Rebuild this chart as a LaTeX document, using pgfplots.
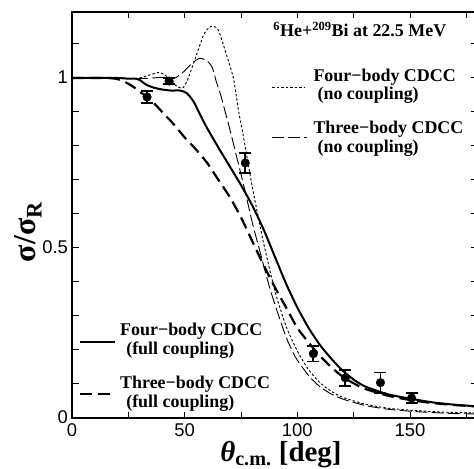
\documentclass[border=0pt]{standalone}
\usepackage{fontspec}
\setmainfont{Liberation Serif}
\newfontfamily\tickfont{Liberation Sans}
\usepackage{pgfplots}
\pgfplotsset{compat=1.18}

\tikzset{
  keytext/.style={font=\fontsize{18}{19}\selectfont\bfseries, anchor=base west, inner sep=0pt},
  fourfull/.style={black, line width=2bp},
  threefull/.style={black, line width=2.2bp, dash pattern=on 12bp off 6bp},
  fournone/.style={black, line width=0.9bp, dash pattern=on 2.5bp off 2bp},
  threenone/.style={black, line width=0.9bp, dash pattern=on 12bp off 4bp},
}

\begin{document}
\begin{tikzpicture}
\begin{axis}[
  scale only axis, width=405.6bp, height=406bp,
  xmin=0, xmax=180, ymin=0, ymax=1.194,
  xtick={0,50,100,150}, minor xtick={25,75,125,175},
  ytick={0,0.5,1}, minor ytick={0.1,0.2,0.3,0.4,0.6,0.7,0.8,0.9,1.1},
  yticklabels={0,0.5,1},
  tick align=inside, major tick length=6.5bp, minor tick length=6.5bp,
  tick style={line width=1bp, black},
  axis line style={line width=1.1bp},
  tick label style={font=\fontsize{18.5}{20}\tickfont},
  /pgf/number format/assume math mode=true,
  xticklabel style={yshift=-2.5bp},
  yticklabel style={xshift=-0.5bp, yshift=1bp},
  clip=false,
]
% four-body CDCC, full coupling
\addplot[fourfull, smooth, tension=0.4] coordinates {
(0,1) (10,1) (20,1) (25,0.998) (28,0.998) (30,0.994) (33,0.98) (36,0.972)
(40,0.966) (44,0.963) (48,0.963) (51,0.955) (54,0.93) (57,0.89) (60,0.852)
(65,0.795) (70,0.74) (75,0.685) (80,0.625) (85,0.555) (90,0.475) (95,0.395)
(100,0.325) (105,0.265) (110,0.215) (115,0.175) (120,0.14) (125,0.113)
(130,0.093) (140,0.07) (150,0.057) (160,0.046) (170,0.039) (180,0.034)};
% three-body CDCC, full coupling
\addplot[threefull, smooth, tension=0.4] coordinates {
(0,1) (15,1) (20,0.997) (23,0.99) (27,0.975) (30,0.96) (35,0.935) (40,0.9)
(45,0.865) (50,0.825) (55,0.79) (60,0.75) (65,0.7) (70,0.65) (75,0.59)
(80,0.52) (85,0.45) (90,0.385) (95,0.325) (100,0.265) (105,0.222) (110,0.183)
(115,0.15) (120,0.122) (125,0.102) (130,0.086) (140,0.066) (150,0.053)
(160,0.044) (170,0.038) (180,0.034)};
% four-body CDCC, no coupling
\addplot[fournone, smooth, tension=0.4] coordinates {
(0,1) (20,1) (25,0.998) (30,1.0) (35,1.01) (39,1.016) (43,1.0) (46,0.978)
(49,0.97) (51,0.99) (54,1.044) (58,1.12) (60,1.143) (62.5,1.153) (65,1.14)
(68,1.08) (71.6,1.0) (74,0.9) (76,0.83) (80,0.68) (83,0.58) (85,0.515)
(90,0.375) (95,0.27) (100,0.197) (105,0.142) (110,0.104) (115,0.079)
(120,0.061) (130,0.041) (140,0.029) (150,0.023) (160,0.019) (170,0.016) (180,0.015)};
% three-body CDCC, no coupling
\addplot[threenone, smooth, tension=0.4] coordinates {
(0,1) (20,1) (25,0.998) (30,0.998) (36,1.0) (40,1.002) (45,0.998) (49,1.015)
(52,1.035) (55,1.052) (57,1.058) (60,1.05) (62.3,1.03) (64,0.99) (66,0.95)
(68,0.9) (70,0.85) (73,0.77) (76,0.69) (80,0.575) (83,0.5) (87,0.4)
(90,0.335) (95,0.238) (98.3,0.19) (100,0.17) (105,0.125) (110,0.092)
(115,0.071) (120,0.056) (130,0.037) (140,0.026) (150,0.02) (160,0.016)
(170,0.013) (180,0.012)};
% experimental data
\addplot[black, only marks, mark=*, mark size=4.3bp,
  error bars/.cd, y dir=both, y explicit,
  error bar style={line width=1.8bp},
  error mark options={rotate=90, mark size=6bp, line width=1.8bp}]
coordinates {
(33.3,0.944) +- (0,0.018)
(43.1,0.991) +- (0,0.008)
(76.9,0.75) +- (0,0.03)
(107.1,0.189) +- (0,0.023)
(121.3,0.118) +- (0,0.023)
(136.9,0.104) +- (0,0.03)
(150.7,0.059) +- (0,0.015)};

% axis labels
\node[rotate=90, anchor=center, font=\fontsize{32}{34}\selectfont\bfseries]
  at (rel axis cs:-0.108,0.458) {σ/σ\textsubscript{R}};
\node[anchor=base, font=\fontsize{29}{31}\selectfont\bfseries]
  at (rel axis cs:0.515,-0.108) {\textit{θ}\textsubscript{c.m.} [deg]};

% title and legend keys
\node[keytext] at (axis cs:89.3,1.1206) {\textsuperscript{6}He+\textsuperscript{209}Bi at 22.5 MeV};
\draw[fournone] (axis cs:88.9,0.9735) -- (axis cs:103.1,0.9735);
\node[keytext] at (axis cs:107.1,0.991) {Four−body CDCC};
\node[keytext] at (axis cs:108.9,0.938) {(no coupling)};
\draw[threenone] (axis cs:88.9,0.826) -- (axis cs:104.4,0.826);
\node[keytext] at (axis cs:107.1,0.838) {Three−body CDCC};
\node[keytext] at (axis cs:108.9,0.782) {(no coupling)};
\draw[fourfull] (axis cs:3.6,0.2235) -- (axis cs:19.1,0.2235);
\node[keytext] at (axis cs:21.3,0.244) {Four−body CDCC};
\node[keytext] at (axis cs:24,0.188) {(full coupling)};
\draw[threefull] (axis cs:3.6,0.0706) -- (axis cs:16.9,0.0706);
\node[keytext] at (axis cs:21.3,0.0853) {Three−body CDCC};
\node[keytext] at (axis cs:24,0.032) {(full coupling)};
\end{axis}
\pgfresetboundingbox
\path ([xshift=-72bp,yshift=-51bp]current axis.south west) rectangle ([xshift=-3.6bp,yshift=12bp]current axis.north east);
\end{tikzpicture}
\end{document}
